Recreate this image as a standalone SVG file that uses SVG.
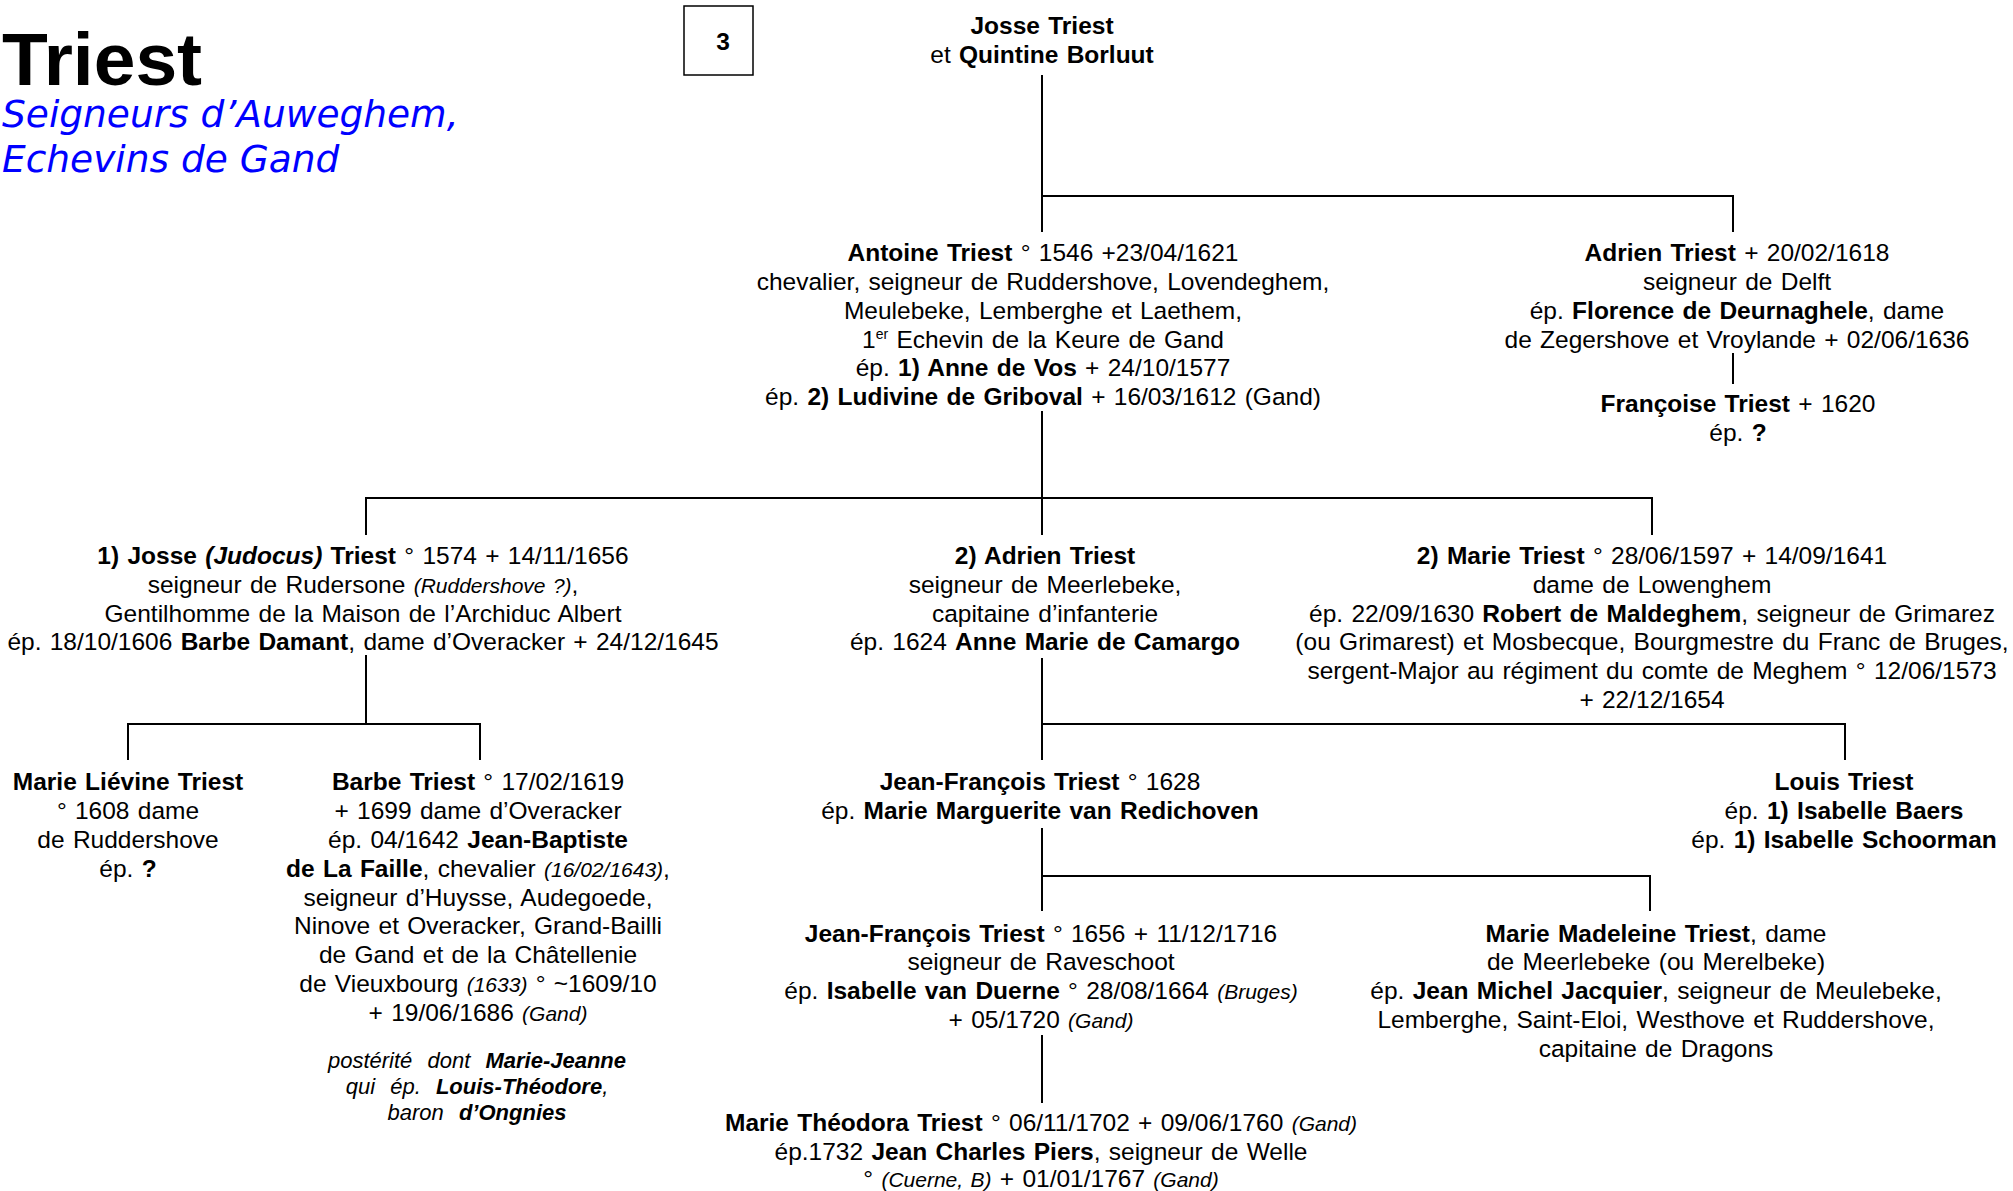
<svg xmlns="http://www.w3.org/2000/svg" width="2013" height="1191" viewBox="0 0 2013 1191">
<style>
.t{font-family:"Liberation Sans",Arial,sans-serif;font-size:24.5px;fill:#000;text-anchor:middle;word-spacing:1.5px}
.b{font-weight:bold}
.i{font-style:italic}
.s{font-size:21px;font-style:italic}
.p{font-family:"Liberation Sans",Arial,sans-serif;font-size:22px;font-style:italic;fill:#000;text-anchor:middle;word-spacing:9px}
.ln{stroke:#000;stroke-width:2;fill:none;stroke-linecap:square}
.sub{font-family:"DejaVu Sans",Verdana,sans-serif;font-size:37.5px;font-style:italic;fill:#0000FF}
</style>
<rect width="2013" height="1191" fill="#fff"/>
<g id="title">
<text x="2" y="85" font-family="'Liberation Sans',Arial,sans-serif" font-size="75" font-weight="bold" fill="#000">Triest</text>
<text class="sub" x="2" y="127">Seigneurs d’Auweghem,</text>
<text class="sub" x="2" y="172">Echevins de Gand</text>
</g>
<g id="page-box">
<rect x="684" y="6" width="69" height="69" fill="none" stroke="#000" stroke-width="1.5"/>
<text class="t b" x="723" y="50">3</text>
</g>
<g id="connectors">
<path class="ln" d="M1042 76V231M1042 196H1733V231"/>
<path class="ln" d="M1733 354V383"/>
<path class="ln" d="M1042 412V534M366 534V498H1652V534"/>
<path class="ln" d="M366 656V724M128 759V724H480V759"/>
<path class="ln" d="M1042 659V759M1042 724H1845V759"/>
<path class="ln" d="M1042 829V910M1042 876H1650V910"/>
<path class="ln" d="M1042 1036V1102"/>
</g>
<g id="n-josse-quintine">
<text class="t" x="1042" y="34"><tspan class="b">Josse Triest</tspan></text>
<text class="t" x="1042" y="63">et <tspan class="b">Quintine Borluut</tspan></text>
</g>
<g id="n-antoine">
<text class="t" x="1043" y="261"><tspan class="b">Antoine Triest</tspan> ° 1546 +23/04/1621</text>
<text class="t" x="1043" y="290">chevalier, seigneur de Ruddershove, Lovendeghem,</text>
<text class="t" x="1043" y="319">Meulebeke, Lemberghe et Laethem,</text>
<text class="t" x="1043" y="348">1<tspan font-size="14" dy="-9">er</tspan><tspan dy="9"> Echevin de la Keure de Gand</tspan></text>
<text class="t" x="1043" y="376">ép. <tspan class="b">1) Anne de Vos</tspan> + 24/10/1577</text>
<text class="t" x="1043" y="405">ép. <tspan class="b">2) Ludivine de Griboval</tspan> + 16/03/1612 (Gand)</text>
</g>
<g id="n-adrien-delft">
<text class="t" x="1737" y="261"><tspan class="b">Adrien Triest</tspan> + 20/02/1618</text>
<text class="t" x="1737" y="290" word-spacing="4">seigneur de Delft</text>
<text class="t" x="1737" y="319">ép. <tspan class="b">Florence de Deurnaghele</tspan>, dame</text>
<text class="t" x="1737" y="348">de Zegershove et Vroylande + 02/06/1636</text>
</g>
<g id="n-francoise">
<text class="t" x="1738" y="412"><tspan class="b">Françoise Triest</tspan> + 1620</text>
<text class="t" x="1738" y="441">ép. <tspan class="b">?</tspan></text>
</g>
<g id="n-josse-judocus">
<text class="t" x="363" y="564"><tspan class="b">1) Josse <tspan class="i">(Judocus)</tspan> Triest</tspan> ° 1574 + 14/11/1656</text>
<text class="t" x="363" y="593" word-spacing="4">seigneur de Rudersone <tspan class="s">(Ruddershove ?)</tspan>,</text>
<text class="t" x="363" y="622">Gentilhomme de la Maison de l’Archiduc Albert</text>
<text class="t" x="363" y="650">ép. 18/10/1606 <tspan class="b">Barbe Damant</tspan>, dame d’Overacker + 24/12/1645</text>
</g>
<g id="n-adrien-meerlebeke">
<text class="t" x="1045" y="564"><tspan class="b">2) Adrien Triest</tspan></text>
<text class="t" x="1045" y="593" word-spacing="4">seigneur de Meerlebeke,</text>
<text class="t" x="1045" y="622" word-spacing="4">capitaine d’infanterie</text>
<text class="t" x="1045" y="650">ép. 1624 <tspan class="b">Anne Marie de Camargo</tspan></text>
</g>
<g id="n-marie">
<text class="t" x="1652" y="564"><tspan class="b">2) Marie Triest</tspan> ° 28/06/1597 + 14/09/1641</text>
<text class="t" x="1652" y="593" word-spacing="4">dame de Lowenghem</text>
<text class="t" x="1652" y="622">ép. 22/09/1630 <tspan class="b">Robert de Maldeghem</tspan>, seigneur de Grimarez</text>
<text class="t" x="1652" y="650">(ou Grimarest) et Mosbecque, Bourgmestre du Franc de Bruges,</text>
<text class="t" x="1652" y="679">sergent-Major au régiment du comte de Meghem ° 12/06/1573</text>
<text class="t" x="1652" y="708">+ 22/12/1654</text>
</g>
<g id="n-marie-lievine">
<text class="t" x="128" y="790"><tspan class="b">Marie Liévine Triest</tspan></text>
<text class="t" x="128" y="819" word-spacing="5">° 1608 dame</text>
<text class="t" x="128" y="848" word-spacing="5">de Ruddershove</text>
<text class="t" x="128" y="877">ép. <tspan class="b">?</tspan></text>
</g>
<g id="n-barbe">
<text class="t" x="478" y="790"><tspan class="b">Barbe Triest</tspan> ° 17/02/1619</text>
<text class="t" x="478" y="819">+ 1699 dame d’Overacker</text>
<text class="t" x="478" y="848">ép. 04/1642 <tspan class="b">Jean-Baptiste</tspan></text>
<text class="t" x="478" y="877"><tspan class="b">de La Faille</tspan>, chevalier <tspan class="s">(16/02/1643)</tspan>,</text>
<text class="t" x="478" y="906" word-spacing="4">seigneur d’Huysse, Audegoede,</text>
<text class="t" x="478" y="934">Ninove et Overacker, Grand-Bailli</text>
<text class="t" x="478" y="963">de Gand et de la Châtellenie</text>
<text class="t" x="478" y="992">de Vieuxbourg <tspan class="s">(1633)</tspan> ° ~1609/10</text>
<text class="t" x="478" y="1021" word-spacing="4">+ 19/06/1686 <tspan class="s">(Gand)</tspan></text>
<text class="p" x="477" y="1068">postérité dont <tspan class="b">Marie-Jeanne</tspan></text>
<text class="p" x="477" y="1094">qui ép. <tspan class="b">Louis-Théodore</tspan>,</text>
<text class="p" x="477" y="1120">baron <tspan class="b">d’Ongnies</tspan></text>
</g>
<g id="n-jean-francois-1628">
<text class="t" x="1040" y="790"><tspan class="b">Jean-François Triest</tspan> ° 1628</text>
<text class="t" x="1040" y="819">ép. <tspan class="b">Marie Marguerite van Redichoven</tspan></text>
</g>
<g id="n-louis">
<text class="t" x="1844" y="790"><tspan class="b">Louis Triest</tspan></text>
<text class="t" x="1844" y="819">ép. <tspan class="b">1) Isabelle Baers</tspan></text>
<text class="t" x="1844" y="848">ép. <tspan class="b">1) Isabelle Schoorman</tspan></text>
</g>
<g id="n-jean-francois-1656">
<text class="t" x="1041" y="942"><tspan class="b">Jean-François Triest</tspan> ° 1656 + 11/12/1716</text>
<text class="t" x="1041" y="970" word-spacing="5">seigneur de Raveschoot</text>
<text class="t" x="1041" y="999">ép. <tspan class="b">Isabelle van Duerne</tspan> ° 28/08/1664 <tspan class="s">(Bruges)</tspan></text>
<text class="t" x="1041" y="1028" word-spacing="4">+ 05/1720 <tspan class="s">(Gand)</tspan></text>
</g>
<g id="n-marie-madeleine">
<text class="t" x="1656" y="942"><tspan class="b">Marie Madeleine Triest</tspan>, dame</text>
<text class="t" x="1656" y="970">de Meerlebeke (ou Merelbeke)</text>
<text class="t" x="1656" y="999">ép. <tspan class="b">Jean Michel Jacquier</tspan>, seigneur de Meulebeke,</text>
<text class="t" x="1656" y="1028">Lemberghe, Saint-Eloi, Westhove et Ruddershove,</text>
<text class="t" x="1656" y="1057" word-spacing="5">capitaine de Dragons</text>
</g>
<g id="n-marie-theodora">
<text class="t" x="1041" y="1131"><tspan class="b">Marie Théodora Triest</tspan> ° 06/11/1702 + 09/06/1760 <tspan class="s">(Gand)</tspan></text>
<text class="t" x="1041" y="1160">ép.1732 <tspan class="b">Jean Charles Piers</tspan>, seigneur de Welle</text>
<text class="t" x="1041" y="1187" word-spacing="4">° <tspan class="s">(Cuerne, B)</tspan> + 01/01/1767 <tspan class="s">(Gand)</tspan></text>
</g>
</svg>
